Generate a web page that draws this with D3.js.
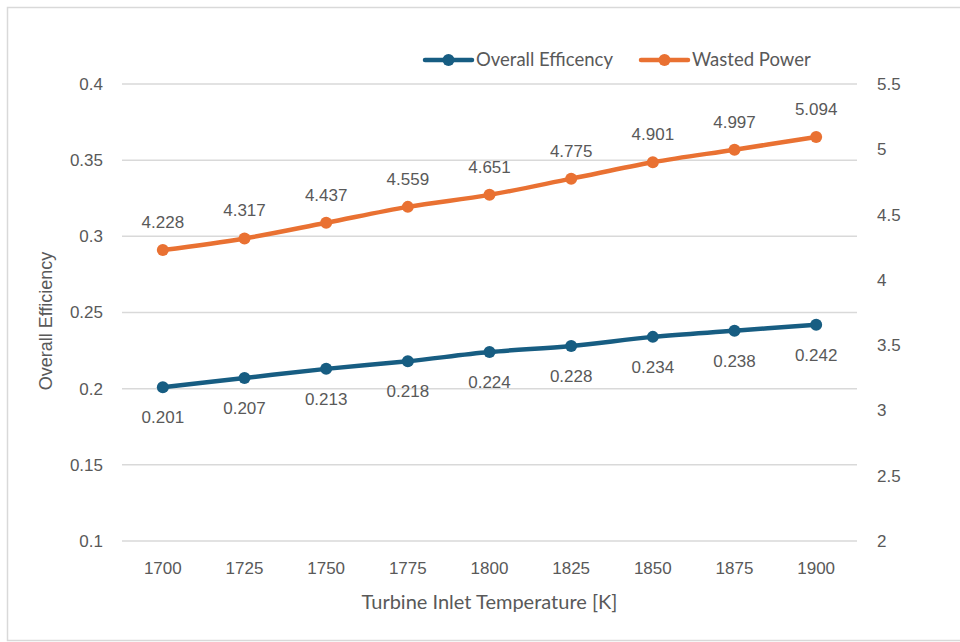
<!DOCTYPE html>
<html>
<head>
<meta charset="utf-8">
<script src="https://cdn.jsdelivr.net/npm/d3@7"></script>
<style>
  html, body { margin: 0; padding: 0; background: #fff; }
  svg { display: block; }
  .tick-label { font-family: "Liberation Sans", Arial, sans-serif; font-size: 17px; fill: #595959; }
  .title { font-family: Lato, "Open Sans", sans-serif; font-size: 20px; fill: #595959; }
</style>
</head>
<body>
<svg id="chart" width="960" height="642"></svg>
<script>
const temps = ["1700", "1725", "1750", "1775", "1800", "1825", "1850", "1875", "1900"];
const efficiency = [0.201, 0.207, 0.213, 0.218, 0.224, 0.228, 0.234, 0.238, 0.242];
const wastedPower = [4.228, 4.317, 4.437, 4.559, 4.651, 4.775, 4.901, 4.997, 5.094];
const leftTicks = [0.1, 0.15, 0.2, 0.25, 0.3, 0.35, 0.4];
const rightTicks = [2, 2.5, 3, 3.5, 4, 4.5, 5, 5.5];

const BLUE = "#175d82", ORANGE = "#e97132";

const svg = d3.select("#chart");
const margin = { left: 122, right: 857, top: 84, bottom: 541 };

// chart frame
svg.append("rect")
    .attr("x", 7.5).attr("y", 7.5)
    .attr("width", 980).attr("height", 633)
    .attr("fill", "#fff").attr("stroke", "#d9d9d9").attr("stroke-width", 1.5);

const x = d3.scaleBand().domain(temps).range([margin.left, margin.right]);
const yL = d3.scaleLinear().domain([0.1, 0.4]).range([margin.bottom, margin.top]);
const yR = d3.scaleLinear().domain([2, 5.5]).range([margin.bottom, margin.top]);
const cx = d => x(d) + x.bandwidth() / 2;

// gridlines
svg.append("g").selectAll("line").data(leftTicks).join("line")
    .attr("x1", margin.left).attr("x2", margin.right)
    .attr("y1", d => yL(d)).attr("y2", d => yL(d))
    .attr("stroke", "#d9d9d9").attr("stroke-width", 1.5);

// left axis labels
svg.append("g").selectAll("text").data(leftTicks).join("text")
    .attr("class", "tick-label")
    .attr("x", 103).attr("y", d => yL(d)).attr("dy", "0.35em")
    .attr("text-anchor", "end")
    .text(d => d3.format("~g")(d));

// right axis labels
svg.append("g").selectAll("text").data(rightTicks).join("text")
    .attr("class", "tick-label")
    .attr("x", 877).attr("y", d => yR(d)).attr("dy", "0.35em")
    .text(d => d3.format("~g")(d));

// x axis labels
svg.append("g").selectAll("text").data(temps).join("text")
    .attr("class", "tick-label")
    .attr("x", d => cx(d)).attr("y", 568).attr("dy", "0.35em")
    .attr("text-anchor", "middle")
    .text(d => d);

// axis titles
svg.append("text").attr("class", "title")
    .attr("x", (margin.left + margin.right) / 2).attr("y", 602).attr("dy", "0.35em")
    .attr("text-anchor", "middle")
    .text("Turbine Inlet Temperature [K]");

svg.append("text").attr("class", "tick-label")
    .style("font-size", "18px")
    .attr("transform", "translate(46," + 321 + ") rotate(-90)")
    .attr("dy", "0.35em").attr("text-anchor", "middle")
    .text("Overall Efficiency");

// series
function drawSeries(values, yScale, color, labelDy, fmt) {
    const pts = values.map((v, i) => [cx(temps[i]), yScale(v)]);
    svg.append("path")
        .attr("d", d3.line().curve(d3.curveCatmullRom.alpha(0.5))(pts))
        .attr("fill", "none").attr("stroke", color)
        .attr("stroke-width", 4.5).attr("stroke-linecap", "round");
    svg.append("g").selectAll("circle").data(pts).join("circle")
        .attr("cx", d => d[0]).attr("cy", d => d[1]).attr("r", 6)
        .attr("fill", color);
    svg.append("g").selectAll("text").data(values).join("text")
        .attr("class", "tick-label")
        .attr("x", (d, i) => pts[i][0]).attr("y", (d, i) => pts[i][1] + labelDy)
        .attr("dy", "0.35em").attr("text-anchor", "middle")
        .text(d => d3.format(fmt)(d));
}

drawSeries(efficiency, yL, BLUE, 30, ".3f");
drawSeries(wastedPower, yR, ORANGE, -28, ".3f");

// legend
const legend = [
    { name: "Overall Efficency", color: BLUE, x: 425 },
    { name: "Wasted Power", color: ORANGE, x: 641 }
];
const lg = svg.append("g").selectAll("g").data(legend).join("g")
    .attr("transform", d => "translate(" + d.x + ",60)");
lg.append("line").attr("x1", 0).attr("x2", 47)
    .attr("stroke", d => d.color).attr("stroke-width", 4.5).attr("stroke-linecap", "round");
lg.append("circle").attr("cx", 23.5).attr("r", 6).attr("fill", d => d.color);
lg.append("text").attr("class", "title")
    .attr("x", 51).attr("dy", "0.35em")
    .style("font-size", "18.5px")
    .text(d => d.name);
</script>
</body>
</html>
